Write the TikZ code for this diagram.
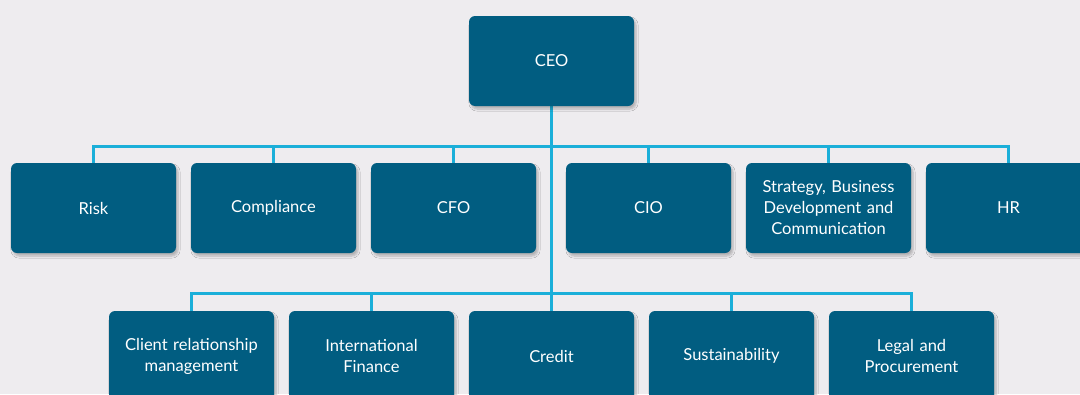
\documentclass[tikz,border=0pt]{standalone}
\usepackage{fontspec}
\setmainfont{Lato}
\usepackage{tikz}
\usetikzlibrary{positioning,backgrounds,shadows.blur}

\definecolor{boxblue}{HTML}{015D81}
\definecolor{linkcyan}{HTML}{1BAFD9}
\definecolor{pagegray}{HTML}{EEECEF}

\begin{document}
\begin{tikzpicture}[
    x=1pt, y=-1pt,
    node distance=15pt and 15pt,
    every node/.style={font=\fontsize{16.5}{21}\selectfont},
    unit/.style={rounded corners=6pt, fill=boxblue, text=white, align=center,
        minimum width=165pt, minimum height=90pt, inner sep=2pt, outer sep=0pt, text width=155pt,
        blur shadow={shadow xshift=2pt, shadow yshift=-3pt, shadow blur steps=6, shadow opacity=25}},
    link/.style={draw=linkcyan, line width=3pt}
]
\useasboundingbox (0,0) rectangle (1080,394);

% top
\node[unit] (ceo) at (551.5,61) {CEO};

% first row
\node[unit] (risk) at (93.5,208) {Risk};
\node[unit, right=of risk] (compl) {Compliance};
\node[unit, right=of compl] (cfo) {CFO};
\node[unit, right=30pt of cfo] (cio) {CIO};
\node[unit, right=of cio] (strat) {Strategy, Business\\Development and\\Communication};
\node[unit, right=of strat] (hr) {HR};

% second row
\node[unit] (crm) at (191.5,356) {Client relationship\\management};
\node[unit, right=of crm] (intl) {International\\Finance};
\node[unit, right=of intl] (credit) {Credit};
\node[unit, right=of credit] (sust) {Sustainability};
\node[unit, right=of sust] (legal) {Legal and\\Procurement};

\coordinate (bus1) at (551.5,146);
\coordinate (bus2) at (551.5,293);

\begin{scope}[on background layer]
\fill[pagegray] (0,0) rectangle (1080,394);
\draw[link] (ceo.south) -- (credit.north);
\draw[link] (risk.north) |- (bus1) -| (hr.north);
\foreach \n in {compl,cfo,cio,strat}
    \draw[link] (\n.north) -- (\n.north |- bus1);
\draw[link] (crm.north) |- (bus2) -| (legal.north);
\foreach \n in {intl,sust}
    \draw[link] (\n.north) -- (\n.north |- bus2);
\end{scope}

\end{tikzpicture}
\end{document}
